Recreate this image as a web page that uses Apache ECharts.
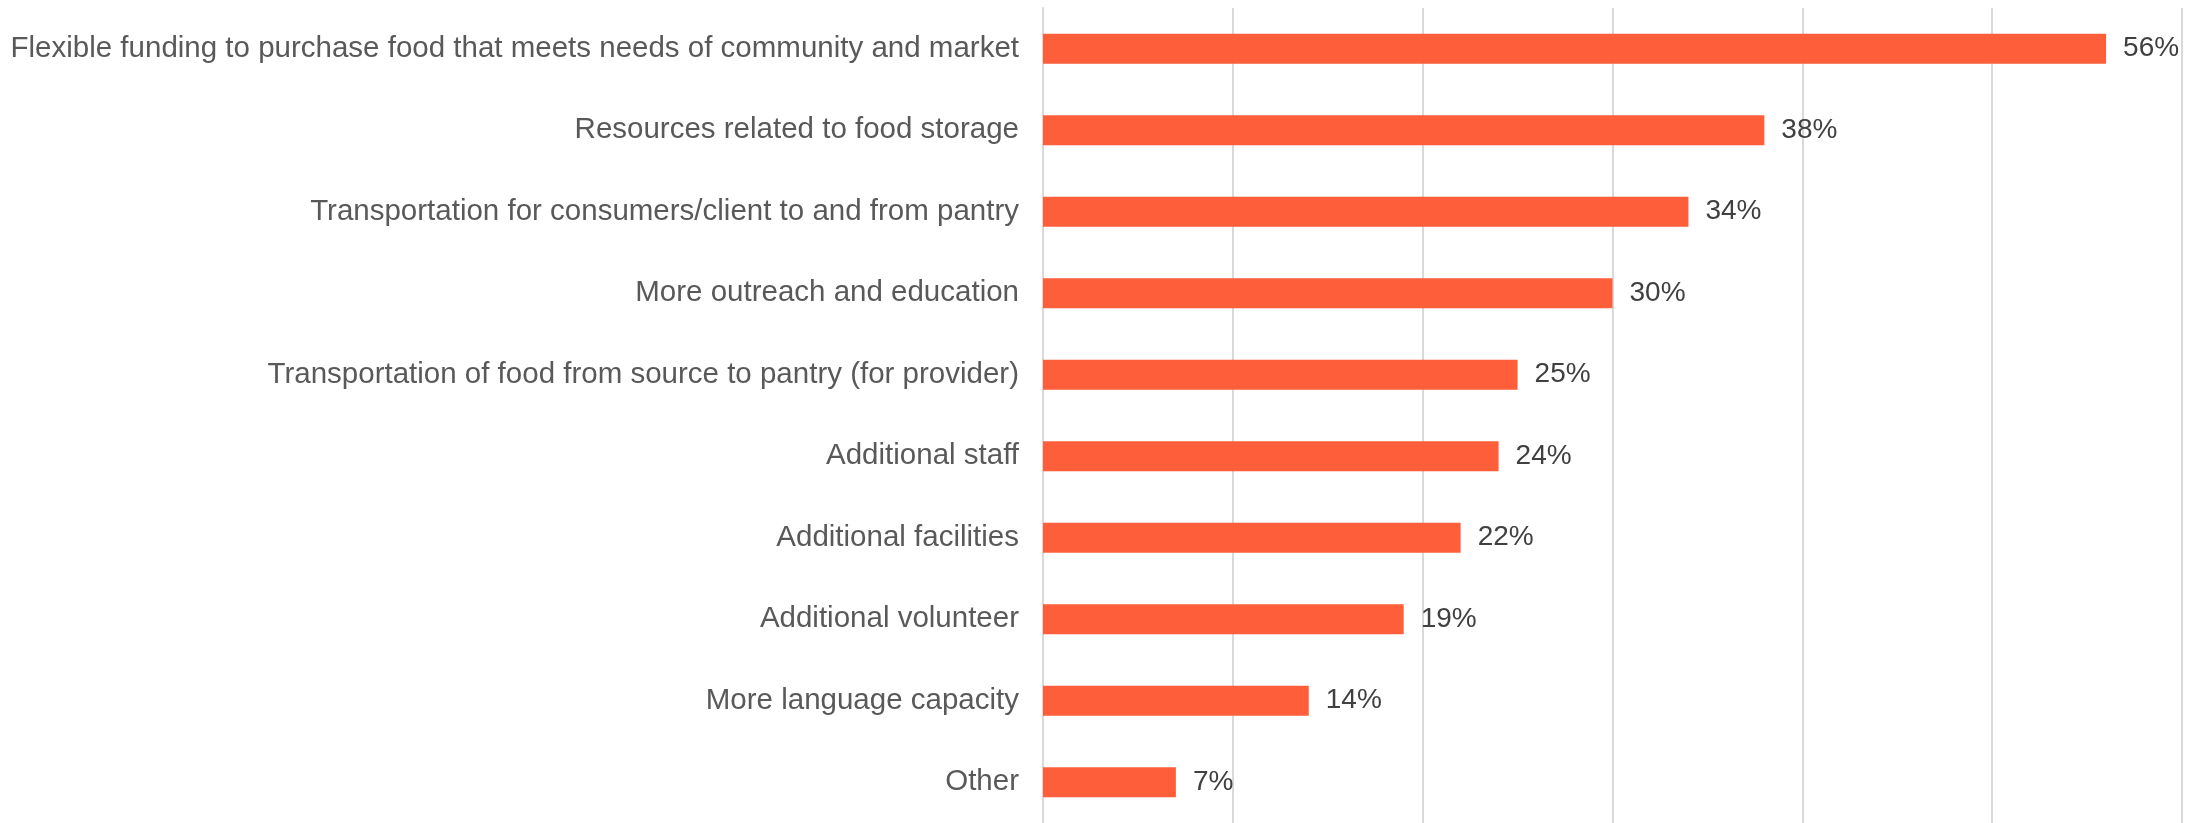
<!DOCTYPE html>
<html>
<head>
<meta charset="utf-8">
<script src="https://cdn.jsdelivr.net/npm/echarts@6/dist/echarts.min.js"></script>
<style>
  html, body { margin: 0; padding: 0; background: #ffffff; }
  #chart { width: 2203px; height: 823px; }
</style>
</head>
<body>
<div id="chart"></div>
<script>
// Needs reported by food providers, share of respondents (%)
const categories = [
  'Flexible funding to purchase food that meets needs of community and market',
  'Resources related to food storage',
  'Transportation for consumers/client to and from pantry',
  'More outreach and education',
  'Transportation of food from source to pantry (for provider)',
  'Additional staff',
  'Additional facilities',
  'Additional volunteer',
  'More language capacity',
  'Other'
];
const shares = [56, 38, 34, 30, 25, 24, 22, 19, 14, 7];

const axisMin = 0;
const axisMax = 60;
const axisStep = 10;

const chart = echarts.init(document.getElementById('chart'), null, { renderer: 'canvas' });

chart.setOption({
  animation: false,
  backgroundColor: '#ffffff',
  grid: { left: 1043, right: 21, top: 8, height: 819, containLabel: false },
  xAxis: {
    type: 'value',
    min: axisMin,
    max: axisMax,
    interval: axisStep,
    axisLine: { show: false },
    axisTick: { show: false },
    axisLabel: { show: false },
    splitLine: { show: true, lineStyle: { color: '#D9D9D9', width: 2 } }
  },
  yAxis: {
    type: 'category',
    data: categories,
    inverse: true,
    axisLine: { show: true, lineStyle: { color: '#D9D9D9', width: 2 } },
    axisTick: { show: false },
    axisLabel: {
      margin: 24,
      color: '#595959',
      fontFamily: 'Liberation Sans, Arial, sans-serif',
      fontSize: 29.5
    }
  },
  series: [{
    type: 'bar',
    data: shares,
    barWidth: 30,
    itemStyle: { color: '#FF5E3A' },
    label: {
      show: true,
      position: 'right',
      distance: 17,
      formatter: p => p.value + '%',
      color: '#404040',
      fontFamily: 'Liberation Sans, Arial, sans-serif',
      fontSize: 28
    }
  }]
});
</script>
</body>
</html>
